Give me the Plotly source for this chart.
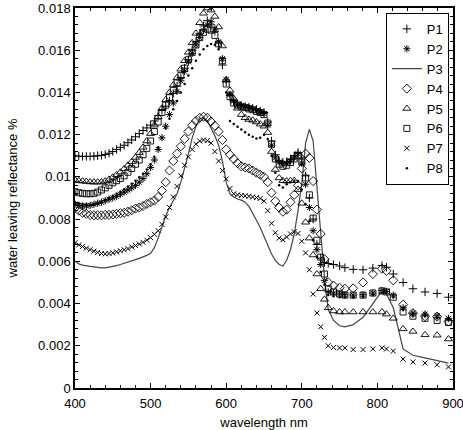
import plotly.graph_objects as go

wavelength = [400, 405, 410, 415, 420, 425, 430, 435, 440, 445, 450, 455, 460, 465, 470, 475, 480, 485, 490, 495,
              500, 505, 510, 515, 520, 525, 530, 535, 540, 545, 550, 555, 560, 565, 570, 575, 580, 585, 590, 595,
              600, 605, 610, 615, 620, 625, 630, 635, 640, 645, 650, 655, 660, 665, 670, 675, 680, 685, 690, 695,
              700, 705, 710, 715, 720, 725, 730, 735, 742, 750, 757, 768, 781, 794, 806, 812, 821, 834, 847, 863,
              879, 894]

p1 = [0.01100, 0.01098, 0.01097, 0.01097, 0.01097, 0.01098, 0.01100, 0.01102, 0.01106, 0.01112,
      0.01120, 0.01130, 0.01140, 0.01150, 0.01162, 0.01175, 0.01190, 0.01205, 0.01220, 0.01232,
      0.01245, 0.01265, 0.01290, 0.01315, 0.01335, 0.01360, 0.01395, 0.01430, 0.01470, 0.01515,
      0.01555, 0.01600, 0.01640, 0.01680, 0.01715, 0.01740, 0.01720, 0.01690, 0.01635, 0.01530,
      0.01450, 0.01385, 0.01355, 0.01345, 0.01338, 0.01333, 0.01330, 0.01325, 0.01320, 0.01312,
      0.01305, 0.01260, 0.01170, 0.01105, 0.01078, 0.01070, 0.01072, 0.01085, 0.01100, 0.01115,
      0.01090, 0.01005, 0.00900, 0.00800, 0.00680, 0.00615, 0.00595, 0.00590, 0.00585, 0.00578,
      0.00570, 0.00562, 0.00560, 0.00568, 0.00580, 0.00572, 0.00540, 0.00500, 0.00470, 0.00455,
      0.00448, 0.00430]

p2 = [0.00870, 0.00865, 0.00862, 0.00862, 0.00865, 0.00870, 0.00875, 0.00880, 0.00887, 0.00894,
      0.00900, 0.00908, 0.00918, 0.00928, 0.00938, 0.00948, 0.00960, 0.00975, 0.00992, 0.01015,
      0.01045, 0.01080, 0.01130, 0.01185, 0.01240, 0.01295, 0.01350, 0.01405, 0.01455, 0.01500,
      0.01545, 0.01585, 0.01625, 0.01660, 0.01695, 0.01720, 0.01735, 0.01700, 0.01640, 0.01560,
      0.01460, 0.01390, 0.01360, 0.01345, 0.01338, 0.01332, 0.01328, 0.01322, 0.01315, 0.01308,
      0.01300, 0.01245, 0.01150, 0.01090, 0.01070, 0.01062, 0.01065, 0.01075, 0.01090, 0.01110,
      0.01065, 0.00965, 0.00855, 0.00745, 0.00655, 0.00585, 0.00510, 0.00455, 0.00450, 0.00445,
      0.00442, 0.00440, 0.00442, 0.00450, 0.00462, 0.00458, 0.00440, 0.00380, 0.00355, 0.00350,
      0.00342, 0.00330]

p3 = [0.00602, 0.00588, 0.00582, 0.00578, 0.00576, 0.00574, 0.00571, 0.00569, 0.00569, 0.00572,
      0.00576, 0.00580, 0.00585, 0.00590, 0.00596, 0.00602, 0.00608, 0.00614, 0.00620, 0.00628,
      0.00638, 0.00665, 0.00710, 0.00765, 0.00815, 0.00855, 0.00885, 0.00920, 0.00975, 0.01040,
      0.01110, 0.01185, 0.01240, 0.01275, 0.01280, 0.01265, 0.01230, 0.01195, 0.01150, 0.01075,
      0.00975, 0.00920, 0.00905, 0.00895, 0.00890, 0.00880, 0.00860, 0.00830, 0.00795, 0.00760,
      0.00720, 0.00675, 0.00635, 0.00605, 0.00585, 0.00578, 0.00605, 0.00655, 0.00730, 0.00840,
      0.00970, 0.01160, 0.01225, 0.01170, 0.00960, 0.00760, 0.00520, 0.00370, 0.00320, 0.00295,
      0.00290, 0.00300, 0.00335, 0.00400, 0.00460, 0.00445, 0.00380, 0.00185, 0.00155, 0.00143,
      0.00130, 0.00118]

p4 = [0.00852, 0.00840, 0.00830, 0.00825, 0.00820, 0.00818, 0.00818, 0.00818, 0.00820, 0.00820,
      0.00822, 0.00825, 0.00828, 0.00830, 0.00835, 0.00842, 0.00850, 0.00855, 0.00862, 0.00872,
      0.00880, 0.00888, 0.00905, 0.00935, 0.00975, 0.01030, 0.01075, 0.01110, 0.01145, 0.01180,
      0.01215, 0.01245, 0.01265, 0.01280, 0.01285, 0.01280, 0.01262, 0.01242, 0.01215, 0.01175,
      0.01130, 0.01105, 0.01085, 0.01065, 0.01050, 0.01045, 0.01040, 0.01030, 0.01020, 0.01010,
      0.01000, 0.00975, 0.00925, 0.00885, 0.00855, 0.00835, 0.00845, 0.00880, 0.00915, 0.00960,
      0.01040, 0.01110, 0.01090, 0.00980, 0.00845, 0.00730, 0.00610, 0.00500, 0.00485, 0.00475,
      0.00470, 0.00472, 0.00500, 0.00540, 0.00565, 0.00555, 0.00510, 0.00395, 0.00355, 0.00340,
      0.00338, 0.00315]

p5 = [0.00985, 0.00982, 0.00980, 0.00978, 0.00976, 0.00975, 0.00975, 0.00976, 0.00980, 0.00988,
      0.00998, 0.01010, 0.01022, 0.01038, 0.01055, 0.01072, 0.01092, 0.01115, 0.01140, 0.01170,
      0.01205, 0.01245, 0.01285, 0.01325, 0.01365, 0.01400, 0.01435, 0.01470, 0.01510, 0.01550,
      0.01590, 0.01635, 0.01680, 0.01730, 0.01775, 0.01800, 0.01790, 0.01760, 0.01710, 0.01620,
      0.01460, 0.01410, 0.01370, 0.01325, 0.01295, 0.01280, 0.01272, 0.01268, 0.01260, 0.01250,
      0.01240, 0.01210, 0.01120, 0.01035, 0.00995, 0.00982, 0.00980, 0.00982, 0.00982, 0.00940,
      0.00875, 0.00785, 0.00710, 0.00630, 0.00540, 0.00470, 0.00420, 0.00380, 0.00365, 0.00360,
      0.00360, 0.00360, 0.00360, 0.00360, 0.00360, 0.00350, 0.00330, 0.00280, 0.00268, 0.00252,
      0.00250, 0.00232]

p6 = [0.00930, 0.00925, 0.00922, 0.00920, 0.00920, 0.00922, 0.00928, 0.00938, 0.00948, 0.00960,
      0.00972, 0.00982, 0.00992, 0.01005, 0.01022, 0.01040, 0.01060, 0.01080, 0.01105, 0.01135,
      0.01170, 0.01215, 0.01260, 0.01305, 0.01340, 0.01375, 0.01410, 0.01445, 0.01480, 0.01515,
      0.01555, 0.01590, 0.01625, 0.01660, 0.01685, 0.01700, 0.01695, 0.01670, 0.01630, 0.01550,
      0.01440, 0.01380, 0.01350, 0.01340, 0.01332, 0.01328, 0.01322, 0.01318, 0.01310, 0.01305,
      0.01295, 0.01255, 0.01155, 0.01085, 0.01060, 0.01050, 0.01055, 0.01068, 0.01085, 0.01100,
      0.01070, 0.00995, 0.00915, 0.00805, 0.00700, 0.00620, 0.00540, 0.00470, 0.00455, 0.00445,
      0.00440, 0.00440, 0.00440, 0.00450, 0.00460, 0.00455, 0.00430, 0.00360, 0.00340, 0.00330,
      0.00320, 0.00310]

p7 = [0.00688, 0.00678, 0.00670, 0.00662, 0.00655, 0.00648, 0.00642, 0.00637, 0.00635, 0.00637,
      0.00640, 0.00645, 0.00650, 0.00655, 0.00660, 0.00668, 0.00675, 0.00682, 0.00690, 0.00700,
      0.00712, 0.00728, 0.00745, 0.00775, 0.00810, 0.00855, 0.00905, 0.00955, 0.01005, 0.01055,
      0.01095, 0.01130, 0.01155, 0.01170, 0.01175, 0.01172, 0.01160, 0.01120, 0.01075, 0.01030,
      0.00990, 0.00945, 0.00920, 0.00915, 0.00912, 0.00910, 0.00908, 0.00905, 0.00902, 0.00898,
      0.00885, 0.00840, 0.00780, 0.00735, 0.00710, 0.00702, 0.00715, 0.00730, 0.00740, 0.00732,
      0.00695, 0.00640, 0.00560, 0.00445, 0.00355, 0.00290, 0.00240, 0.00200, 0.00192, 0.00190,
      0.00190, 0.00182, 0.00182, 0.00185, 0.00190, 0.00185, 0.00175, 0.00137, 0.00123, 0.00118,
      0.00110, 0.00100]

p8 = [0.00880, 0.00875, 0.00872, 0.00870, 0.00868, 0.00868, 0.00872, 0.00880, 0.00890, 0.00900,
      0.00910, 0.00920, 0.00930, 0.00942, 0.00955, 0.00968, 0.00982, 0.00998, 0.01015, 0.01035,
      0.01060, 0.01095, 0.01140, 0.01185, 0.01230, 0.01275, 0.01320, 0.01360, 0.01400, 0.01440,
      0.01480, 0.01515, 0.01550, 0.01580, 0.01605, 0.01620, 0.01630, 0.01625, 0.01605, 0.01550,
      0.01400, 0.01265, 0.01250, 0.01238, 0.01225, 0.01212, 0.01200, 0.01190, 0.01182, 0.01185,
      0.01200, 0.01180, 0.01100, 0.01020, 0.00960, 0.00950, 0.00965, 0.00975, 0.00982, 0.00980,
      0.00940, 0.00870, 0.00790, 0.00700, 0.00620, 0.00550, 0.00490, 0.00440, 0.00435, 0.00430,
      0.00430, 0.00430, 0.00432, 0.00440, 0.00450, 0.00448, 0.00430, 0.00370, 0.00345, 0.00340,
      0.00330, 0.00320]

series_names = ["P1", "P2", "P3", "P4", "P5", "P6", "P7", "P8"]
series_values = [p1, p2, p3, p4, p5, p6, p7, p8]

x_tick_values = [400, 500, 600, 700, 800, 900]
y_tick_values = [0, 0.002, 0.004, 0.006, 0.008, 0.01, 0.012, 0.014, 0.016, 0.018]
y_tick_labels = ["0", "0.002", "0.004", "0.006", "0.008", "0.01", "0.012", "0.014", "0.016", "0.018"]

styles = {
    "P1": dict(mode="markers", marker=dict(symbol="cross-thin-open", size=6, color="black", line=dict(width=1, color="black"))),
    "P2": dict(mode="markers", marker=dict(symbol="asterisk-open", size=6, color="black", line=dict(width=1, color="black"))),
    "P3": dict(mode="lines", line=dict(color="#444444", width=1.2)),
    "P4": dict(mode="markers", marker=dict(symbol="diamond-open", size=7, color="black", line=dict(width=0.9, color="black"))),
    "P5": dict(mode="markers", marker=dict(symbol="triangle-up-open", size=7, color="black", line=dict(width=0.9, color="black"))),
    "P6": dict(mode="markers", marker=dict(symbol="square-open", size=6, color="black", line=dict(width=0.9, color="black"))),
    "P7": dict(mode="markers", marker=dict(symbol="x-thin-open", size=5, color="black", line=dict(width=1, color="black"))),
    "P8": dict(mode="markers", marker=dict(symbol="circle", size=2.5, color="black")),
}

fig = go.Figure()
for name, vals in zip(series_names, series_values):
    fig.add_trace(go.Scatter(x=wavelength, y=vals, name=name, **styles[name]))

font_family = "Liberation Sans, Arial, sans-serif"
fig.update_layout(
    width=463, height=430,
    margin=dict(l=75, r=10, t=8, b=42, autoexpand=False),
    paper_bgcolor="white", plot_bgcolor="white",
    font=dict(family=font_family, size=13, color="black"),
    showlegend=True,
    legend=dict(x=0.989, y=0.987, xanchor="right", yanchor="top",
                bgcolor="white", bordercolor="black", borderwidth=1,
                font=dict(size=13), tracegroupgap=0, itemwidth=30),
)
fig.update_xaxes(
    range=[400, 900], tickvals=x_tick_values, automargin=False,
    showline=True, linecolor="black", linewidth=1.5, mirror="ticks",
    ticks="inside", ticklen=5, tickcolor="black", showgrid=False, zeroline=False,
    ticklabeloverflow="allow", ticklabelstandoff=3,
    minor=dict(ticks="inside", ticklen=3, dtick=20, tickcolor="black", showgrid=False),
    title=dict(text="wavelength nm", font=dict(size=13), standoff=11),
)
fig.update_yaxes(
    range=[0, 0.018], tickvals=y_tick_values, ticktext=y_tick_labels, automargin=False,
    showline=True, linecolor="black", linewidth=1.5, mirror="ticks",
    ticks="inside", ticklen=5, tickcolor="black", showgrid=False, zeroline=False,
    ticklabeloverflow="allow",
    minor=dict(ticks="inside", ticklen=3, tickvals=[i * 0.0004 for i in range(46)], tickcolor="black", showgrid=False),
    title=dict(text="water leaving reflectance %", font=dict(size=13), standoff=18),
)

fig.write_html("out.html")
